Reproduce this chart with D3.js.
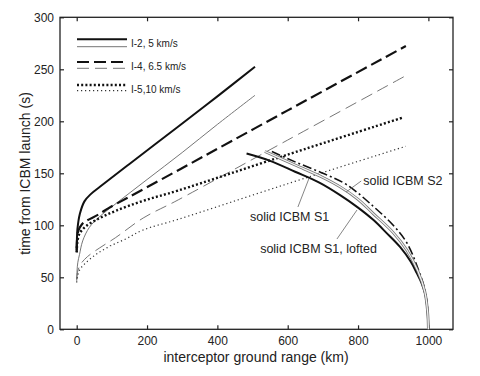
<!DOCTYPE html>
<html>
<head>
<meta charset="utf-8">
<script src="https://cdn.jsdelivr.net/npm/d3@7"></script>
<style>
  body { margin: 0; background: #fff; }
  text { font-family: "Liberation Sans", Arial, sans-serif; fill: #222; }
</style>
</head>
<body>
<svg id="chart" width="480" height="376"></svg>
<script>
// interceptor curves: [range km, time s]
const i2Thick = [[0,74],[0.5,85],[2,96],[9,111],[22,123],[40,130],[66,137],[150,159],[289,195],[400,224],[507,252.5]];
const i2Thin = [[0,46],[1,56],[3,64],[8,72],[17,85],[36,98],[64,108],[112,121],[200,144],[300,170],[400,197],[507,225]];
const i4Thick = [[0,76],[1,86],[5,95],[15,101],[26,104],[60,110],[93,117],[142,126],[289,153],[600,210.5],[936,272.4]];
const i4Thin = [[0,48],[3,56],[12,63],[31,70],[64,78],[110,88],[189,107],[289,124.5],[600,182],[936,243.9]];
const i5Thick = [[0,74],[2,84],[8,92],[26,99],[64,106.7],[112,114],[189,123.5],[289,133.5],[600,168],[929,203.8]];
const i5Thin = [[0,45],[3,52],[10,58],[26,64],[55,72],[95,80],[140,87],[189,95.5],[289,105.8],[600,140],[936,176]];

// ICBM trajectories
const s1 = [[483,169],[550,162],[621,151.5],[690,141],[749,129],[800,117],[844,105],[880,93],[920,79],[950,65],[967,54],[980,45],[991,34],[997,20],[1000,0]];
const s1Lofted = [[535,171],[621,158],[700,146],[749,137],[800,125],[844,111],[900,93],[939,76],[970,56],[990,36],[998,16],[1000,0]];
const s2 = [[555,171],[621,161],[700,150],[768,139],[844,118],[900,100],[939,83],[972,57],[990,38],[998,18],[1000,0]];

const xTicks = [0, 200, 400, 600, 800, 1000];
const yTicks = [0, 50, 100, 150, 200, 250, 300];

const svg = d3.select("#chart");
const x = d3.scaleLinear().domain([-47.5, 1070]).range([60, 453]);
const y = d3.scaleLinear().domain([0, 300]).range([329.3, 17.3]);

const line = d3.line()
  .x(d => x(d[0]))
  .y(d => y(d[1]))
  .curve(d3.curveCatmullRom.alpha(0.5));

// frame + inward ticks
svg.append("rect")
  .attr("x", 60).attr("y", 17.3).attr("width", 393).attr("height", 312)
  .attr("fill", "none").attr("stroke", "#222").attr("stroke-width", 1.3);

const gBottom = svg.append("g").attr("transform", "translate(0,329.3)")
  .call(d3.axisBottom(x).tickValues(xTicks).tickSize(-4).tickPadding(7).tickFormat(d3.format("d")));
const gTop = svg.append("g").attr("transform", "translate(0,17.3)")
  .call(d3.axisTop(x).tickValues(xTicks).tickSize(-4).tickFormat(""));
const gLeft = svg.append("g").attr("transform", "translate(60,0)")
  .call(d3.axisLeft(y).tickValues(yTicks).tickSize(-4).tickPadding(6));
const gRight = svg.append("g").attr("transform", "translate(453,0)")
  .call(d3.axisRight(y).tickValues(yTicks).tickSize(-4).tickFormat(""));

[gBottom, gTop, gLeft, gRight].forEach(g => {
  g.select(".domain").remove();
  g.selectAll(".tick line").attr("stroke", "#222").attr("stroke-width", 1.2);
  g.selectAll(".tick text").attr("font-size", 12).attr("fill", "#333")
    .style("font-family", "'Liberation Sans', Arial, sans-serif");
});

// series styles
const series = [
  {d: i2Thin, stroke: "#666", w: 0.9, dash: null},
  {d: i4Thin, stroke: "#666", w: 0.9, dash: "12,6"},
  {d: i5Thin, stroke: "#333", w: 1.2, dash: "1.2,2.8"},
  {d: i2Thick, stroke: "#111", w: 2, dash: null},
  {d: i4Thick, stroke: "#111", w: 2.2, dash: "12,5"},
  {d: i5Thick, stroke: "#111", w: 2.4, dash: "2,2.2"},
  {d: s1, stroke: "#111", w: 2, dash: null},
  {d: s2, stroke: "#111", w: 1.6, dash: "9,3,2,3"}
];

svg.append("g").selectAll("path")
  .data(series)
  .join("path")
  .attr("d", s => line(s.d))
  .attr("fill", "none")
  .attr("stroke", s => s.stroke)
  .attr("stroke-width", s => s.w)
  .attr("stroke-dasharray", s => s.dash);

// lofted: double thin line
svg.append("path").attr("d", line(s1Lofted)).attr("fill", "none")
  .attr("stroke", "#777").attr("stroke-width", 2.8);
svg.append("path").attr("d", line(s1Lofted)).attr("fill", "none")
  .attr("stroke", "#f4f4f4").attr("stroke-width", 1.2);

// legend
const legend = [
  {label: "I-2, 5 km/s", y1: 39.3, y2: 46.7, ty: 47, thick: series[3], thin: series[0]},
  {label: "I-4, 6.5 km/s", y1: 62, y2: 68.3, ty: 70, thick: series[4], thin: series[1]},
  {label: "I-5,10 km/s", y1: 85, y2: 90.7, ty: 92.5, thick: series[5], thin: series[2]}
];
legend.forEach(l => {
  [[l.thick, l.y1], [l.thin, l.y2]].forEach(([s, yy]) => {
    svg.append("line").attr("x1", 77).attr("x2", 127).attr("y1", yy).attr("y2", yy)
      .attr("stroke", s.stroke).attr("stroke-width", s.w).attr("stroke-dasharray", s.dash);
  });
  svg.append("text").attr("x", 131).attr("y", l.ty).attr("font-size", 10).text(l.label);
});

// annotations (data coords)
const notes = [
  {text: "solid ICBM S2", tx: 815, ty: 138.8, from: [809, 142.6], to: [766, 132]},
  {text: "solid ICBM S1", tx: 493, ty: 104.4, from: [629, 117.6], to: [661, 145.5]},
  {text: "solid ICBM S1, lofted", tx: 521.6, ty: 73.7, from: [740, 86.8], to: [797, 114.7]}
];
notes.forEach(n => {
  svg.append("line")
    .attr("x1", x(n.from[0])).attr("y1", y(n.from[1]))
    .attr("x2", x(n.to[0])).attr("y2", y(n.to[1]))
    .attr("stroke", "#666").attr("stroke-width", 0.8);
  svg.append("text").attr("x", x(n.tx)).attr("y", y(n.ty))
    .attr("font-size", 12.5).text(n.text);
});

// axis titles
svg.append("text").attr("x", 256).attr("y", 362).attr("text-anchor", "middle")
  .attr("font-size", 14).text("interceptor ground range (km)");
svg.append("text").attr("transform", "translate(30,173.5) rotate(-90)")
  .attr("text-anchor", "middle").attr("font-size", 14).text("time from ICBM launch (s)");
</script>
</body>
</html>
